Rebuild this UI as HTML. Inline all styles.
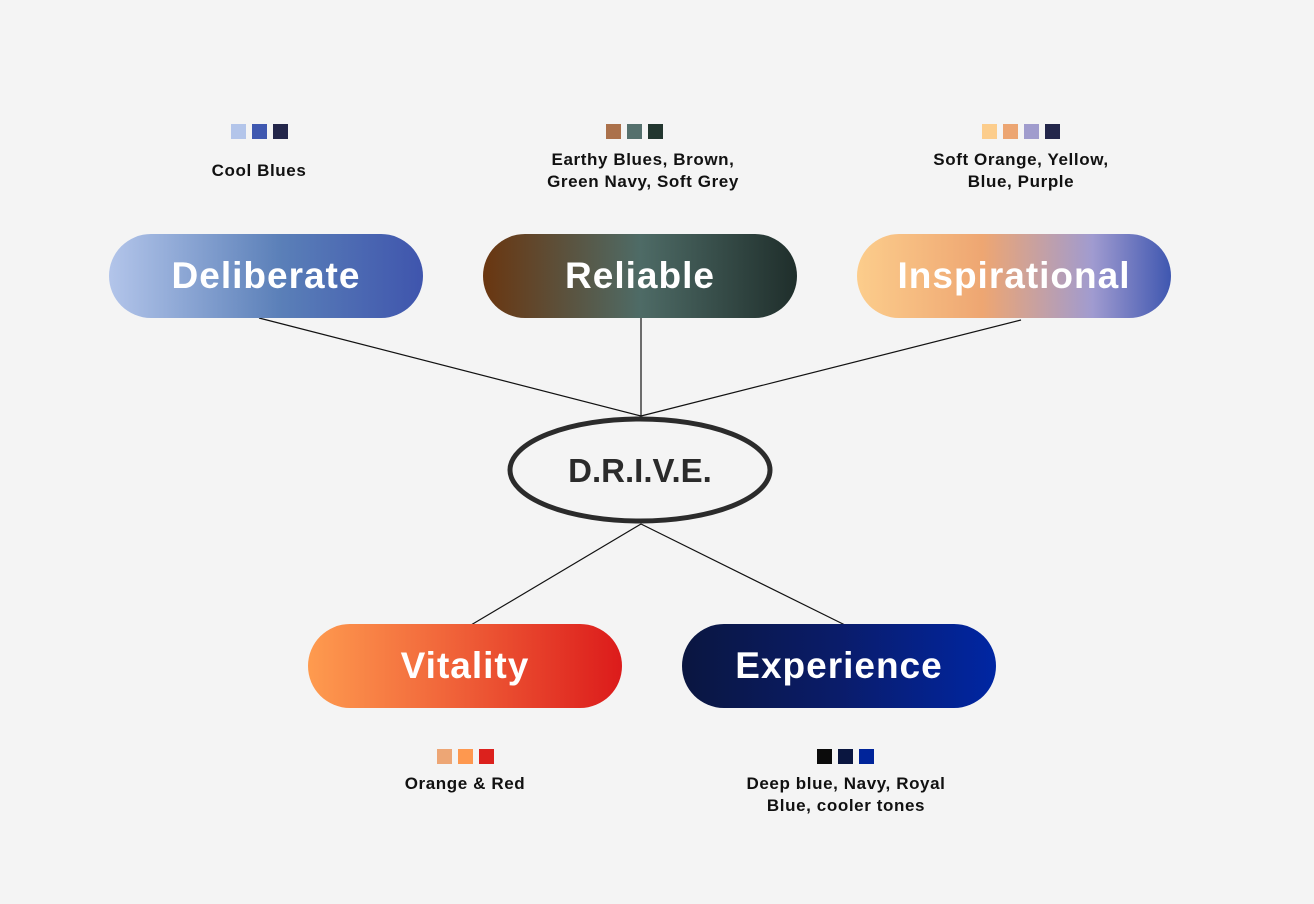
<!DOCTYPE html>
<html><head><meta charset="utf-8"><style>
body{margin:0;width:1314px;height:904px;background:#f4f4f4;position:relative;overflow:hidden;font-family:"Liberation Sans",sans-serif}
.pill{position:absolute;width:314px;height:84px;border-radius:42px;color:#fff;font-weight:bold;font-size:37px;display:flex;align-items:center;justify-content:center;letter-spacing:1px}
.lab{position:absolute;font-weight:bold;font-size:17px;color:#111;text-align:center;line-height:22px;width:300px;letter-spacing:0.6px}
.sw{position:absolute;width:15px;height:15px}
</style></head><body>
<svg width="1314" height="904" style="position:absolute;left:0;top:0">
<g stroke="#111" stroke-width="1.2">
<line x1="259" y1="318" x2="641" y2="416"/>
<line x1="641" y1="318" x2="641" y2="416"/>
<line x1="1021" y1="320" x2="641" y2="416"/>
<line x1="641" y1="524" x2="471" y2="625"/>
<line x1="641" y1="524" x2="845" y2="625"/>
</g>
<ellipse cx="640" cy="470" rx="130" ry="51" fill="#f4f4f4" stroke="#2b2b2b" stroke-width="5"/>
<text x="640" y="482" text-anchor="middle" font-family="Liberation Sans" font-weight="bold" font-size="33" fill="#2b2b2b">D.R.I.V.E.</text>
</svg>
<div class="pill" style="left:109px;top:234px;background:linear-gradient(90deg,#b3c5ea,#5a7fb8 55%,#3f55ad)">Deliberate</div>
<div class="pill" style="left:483px;top:234px;background:linear-gradient(90deg,#6a3610,#4e6b66 50%,#1f2e2b)">Reliable</div>
<div class="pill" style="left:857px;top:234px;background:linear-gradient(90deg,#fccd8c,#eea672 40%,#a09bd0 75%,#3f57b0)">Inspirational</div>
<div class="pill" style="left:308px;top:624px;background:linear-gradient(90deg,#fe9b4f,#f26a3c 40%,#dc1b1b)">Vitality</div>
<div class="pill" style="left:682px;top:624px;background:linear-gradient(90deg,#0a1640,#0a1c6a 50%,#0026a3)">Experience</div>

<div class="sw" style="left:231px;top:124px;background:#b3c5ea"></div>
<div class="sw" style="left:252px;top:124px;background:#3f58b0"></div>
<div class="sw" style="left:273px;top:124px;background:#23264a"></div>
<div class="lab" style="left:109px;top:160px">Cool Blues</div>

<div class="sw" style="left:606px;top:124px;background:#ab714b"></div>
<div class="sw" style="left:627px;top:124px;background:#55706d"></div>
<div class="sw" style="left:648px;top:124px;background:#22362f"></div>
<div class="lab" style="left:493px;top:149px">Earthy Blues, Brown,<br>Green Navy, Soft Grey</div>

<div class="sw" style="left:982px;top:124px;background:#fccd8c"></div>
<div class="sw" style="left:1003px;top:124px;background:#eca572"></div>
<div class="sw" style="left:1024px;top:124px;background:#a09ccd"></div>
<div class="sw" style="left:1045px;top:124px;background:#23264a"></div>
<div class="lab" style="left:871px;top:149px">Soft Orange, Yellow,<br>Blue, Purple</div>

<div class="sw" style="left:437px;top:749px;background:#eda675"></div>
<div class="sw" style="left:458px;top:749px;background:#fe984f"></div>
<div class="sw" style="left:479px;top:749px;background:#dc211d"></div>
<div class="lab" style="left:315px;top:773px">Orange &amp; Red</div>

<div class="sw" style="left:817px;top:749px;background:#0b0b0b"></div>
<div class="sw" style="left:838px;top:749px;background:#0a1640"></div>
<div class="sw" style="left:859px;top:749px;background:#00249a"></div>
<div class="lab" style="left:696px;top:773px">Deep blue, Navy, Royal<br>Blue, cooler tones</div>
</body></html>
